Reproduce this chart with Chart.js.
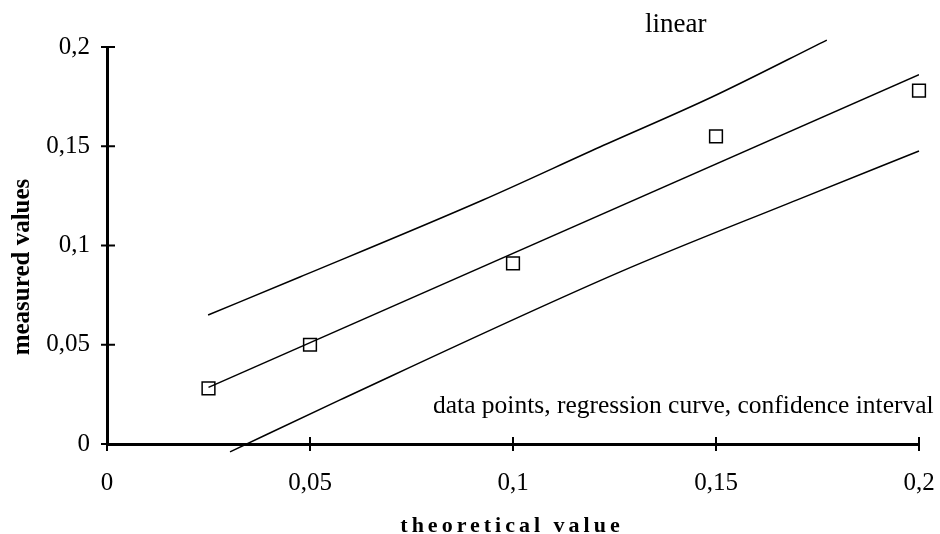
<!DOCTYPE html>
<html lang="en">
<head>
    <meta charset="UTF-8">
    <title>linear</title>
    <script src="https://cdn.jsdelivr.net/npm/chart.js"></script>
    <style>
        body { margin: 0; background: #fff; }
        #wrap { width: 940px; height: 534px; }
    </style>
</head>
<body>
    <div id="wrap"><canvas id="chart" width="940" height="534"></canvas></div>

    <script>
        // measured points
        const pointX = [0.025, 0.05, 0.1, 0.15, 0.2];
        const pointY = [0.028, 0.05, 0.091, 0.155, 0.178];

        // regression line
        const fitX = [0.025, 0.2];
        const fitY = [0.0285, 0.186];

        // confidence interval
        const upperX = [0.0249, 0.0475, 0.0926, 0.1214, 0.149, 0.1773];
        const upperY = [0.065, 0.0841, 0.1229, 0.1496, 0.1748, 0.2035];
        const lowerX = [0.0303, 0.0574, 0.1264, 0.17, 0.2];
        const lowerY = [-0.004, 0.0222, 0.0867, 0.123, 0.1476];

        const tickValues = [0, 0.05, 0.1, 0.15, 0.2];

        const toXY = (xs, ys) => xs.map((x, i) => ({ x: x, y: ys[i] }));
        const fmt = v => String(Math.round(v * 100) / 100).replace('.', ',');
        const serif = '"Liberation Serif", "Times New Roman", serif';

        // crossing tick marks and free text
        const decor = {
            id: 'decor',
            afterDraw(chart) {
                const ctx = chart.ctx;
                const xs = chart.scales.x, ys = chart.scales.y;
                const area = chart.chartArea;
                ctx.save();
                ctx.strokeStyle = '#000';
                ctx.lineWidth = 2;
                tickValues.forEach(v => {
                    const px = xs.getPixelForValue(v);
                    ctx.beginPath();
                    ctx.moveTo(px, area.bottom - 7);
                    ctx.lineTo(px, area.bottom + 7);
                    ctx.stroke();
                    const py = ys.getPixelForValue(v);
                    ctx.beginPath();
                    ctx.moveTo(area.left - 6, py);
                    ctx.lineTo(area.left + 8, py);
                    ctx.stroke();
                });

                ctx.fillStyle = '#000';
                ctx.textBaseline = 'alphabetic';
                ctx.textAlign = 'left';
                ctx.font = '27px ' + serif;
                ctx.fillText('linear', 645, 32);
                ctx.font = '25.5px ' + serif;
                ctx.fillText('data points, regression curve, confidence interval', 433, 413);

                ctx.font = 'bold 22px ' + serif;
                ctx.letterSpacing = '4px';
                ctx.textAlign = 'center';
                ctx.fillText('theoretical value', 512, 532);

                ctx.letterSpacing = '0px';
                ctx.translate(29, 267);
                ctx.rotate(-Math.PI / 2);
                ctx.font = 'bold 25px ' + serif;
                ctx.fillText('measured values', 0, 0);
                ctx.restore();
            }
        };

        const lineStyle = {
            type: 'line',
            borderColor: '#000',
            borderWidth: 1.5,
            pointRadius: 0,
            fill: false
        };

        new Chart(document.getElementById('chart'), {
            data: {
                datasets: [
                    Object.assign({ label: 'upper', data: toXY(upperX, upperY), cubicInterpolationMode: 'monotone', clip: false }, lineStyle),
                    Object.assign({ label: 'lower', data: toXY(lowerX, lowerY), cubicInterpolationMode: 'monotone', clip: false }, lineStyle),
                    Object.assign({ label: 'fit', data: toXY(fitX, fitY) }, lineStyle),
                    {
                        type: 'scatter',
                        label: 'data points',
                        data: toXY(pointX, pointY),
                        clip: false,
                        pointStyle: 'rect',
                        pointRadius: 9,
                        pointBackgroundColor: '#fff',
                        pointBorderColor: '#000',
                        pointBorderWidth: 1.5
                    }
                ]
            },
            options: {
                responsive: false,
                animation: false,
                layout: { padding: { top: 47, right: 21, left: 0, bottom: 0 } },
                plugins: { legend: { display: false }, tooltip: { enabled: false } },
                scales: {
                    x: {
                        type: 'linear',
                        min: 0, max: 0.2,
                        afterFit: s => { s.height = 90; s.paddingLeft = 0; s.paddingRight = 0; },
                        afterBuildTicks: s => { s.ticks = tickValues.map(v => ({ value: v })); },
                        grid: { display: true, drawOnChartArea: false, drawTicks: false },
                        border: { color: '#000', width: 3 },
                        ticks: { color: '#000', padding: 24, maxRotation: 0, font: { family: serif, size: 25 }, callback: fmt }
                    },
                    y: {
                        type: 'linear',
                        min: 0, max: 0.2,
                        afterFit: s => { s.width = 107; },
                        afterBuildTicks: s => { s.ticks = tickValues.map(v => ({ value: v })); },
                        grid: { display: true, drawOnChartArea: false, drawTicks: false },
                        border: { color: '#000', width: 3 },
                        ticks: { color: '#000', padding: 17, font: { family: serif, size: 25 }, callback: fmt }
                    }
                }
            },
            plugins: [decor]
        });
    </script>
</body>
</html>
